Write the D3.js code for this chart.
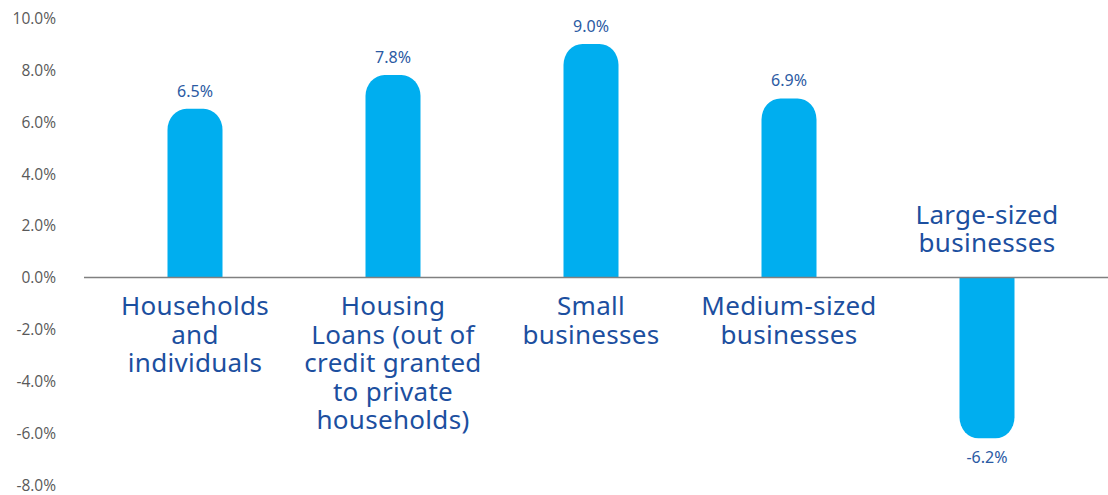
<!DOCTYPE html>
<html><head><meta charset="UTF-8">
<style>
  body { margin: 0; background: #fff; font-family: "Noto Sans", Lato, sans-serif; }
  svg { display: block; }
</style>
</head>
<body>
<svg id="chart"></svg>
<script src="https://cdn.jsdelivr.net/npm/d3@7"></script>
<script>
  // data
  var categories = ["Households and individuals", "Housing Loans", "Small businesses", "Medium-sized businesses", "Large-sized businesses"];
  var labelLines = [
    ["Households", "and", "individuals"],
    ["Housing", "Loans (out of", "credit granted", "to private", "households)"],
    ["Small", "businesses"],
    ["Medium-sized", "businesses"],
    ["Large-sized", "businesses"]
  ];
  var growth = [6.5, 7.8, 9.0, 6.9, -6.2];
  var yTicks = [10, 8, 6, 4, 2, 0, -2, -4, -6, -8];

  var width = 1108, height = 495;
  var svg = d3.select("#chart").attr("width", width).attr("height", height);

  var x = d3.scaleBand().domain(categories).range([96, 1086]).paddingInner(0).paddingOuter(0);
  var y = d3.scaleLinear().domain([-8, 10]).range([485, 18]);
  var barW = 55, rx = 19, ry = 21;

  // y axis labels only
  var yAxis = d3.axisLeft(y).tickValues(yTicks).tickSize(0).tickPadding(0)
    .tickFormat(function (d) { return d3.format(".1f")(d).replace("−", "-") + "%"; });
  var gy = svg.append("g").attr("transform", "translate(56,0)").call(yAxis);
  gy.select(".domain").remove();
  gy.selectAll("text").attr("fill", "#595959").style("font-size", "15.5px")
    .style("font-family", "'Open Sans', sans-serif").attr("dy", "0.35em");

  // bars with rounded outer ends
  function barPath(d, i) {
    var cx = x(categories[i]) + x.bandwidth() / 2;
    var x0 = cx - barW / 2, x1 = cx + barW / 2;
    var y0 = y(0), y1 = y(d);
    var s = d >= 0 ? 1 : -1;
    var sw = d >= 0 ? 1 : 0;
    return "M" + x0 + "," + y0 + "V" + (y1 + s * ry) +
      "A" + rx + "," + ry + " 0 0 " + sw + " " + (x0 + rx) + "," + y1 +
      "H" + (x1 - rx) +
      "A" + rx + "," + ry + " 0 0 " + sw + " " + x1 + "," + (y1 + s * ry) +
      "V" + y0 + "Z";
  }
  svg.append("g").selectAll("path").data(growth).enter().append("path")
    .attr("d", barPath).attr("fill", "#00AEEF");

  // zero line
  svg.append("line").attr("x1", 84).attr("x2", width).attr("y1", y(0)).attr("y2", y(0))
    .attr("stroke", "#808080").attr("stroke-width", 1.5);

  // value labels
  svg.append("g").selectAll("text").data(growth).enter().append("text")
    .attr("x", function (d, i) { return x(categories[i]) + x.bandwidth() / 2; })
    .attr("y", function (d) { return d >= 0 ? y(d) - 12 : y(d) + 25; })
    .attr("text-anchor", "middle").attr("fill", "#2b5aa3")
    .style("font-size", "16px")
    .text(function (d) { return d3.format(".1f")(d).replace("−", "-") + "%"; });

  // category labels
  var lineH = 28.5;
  var cat = svg.append("g").selectAll("text").data(labelLines).enter().append("text")
    .attr("text-anchor", "middle").attr("fill", "#1c4f9f")
    .style("font-size", "26px").style("letter-spacing", "0.3px")
    .attr("x", function (d, i) { return x(categories[i]) + x.bandwidth() / 2; })
    .attr("y", function (d, i) { return growth[i] >= 0 ? 315 : 252 - (d.length - 1) * lineH; });
  cat.selectAll("tspan").data(function (d, i) { return d.map(function (t) { return { t: t, i: i }; }); })
    .enter().append("tspan")
    .attr("x", function (d) { return x(categories[d.i]) + x.bandwidth() / 2; })
    .attr("dy", function (d, k) { return k === 0 ? 0 : lineH; })
    .text(function (d) { return d.t; });
</script>
</body></html>
